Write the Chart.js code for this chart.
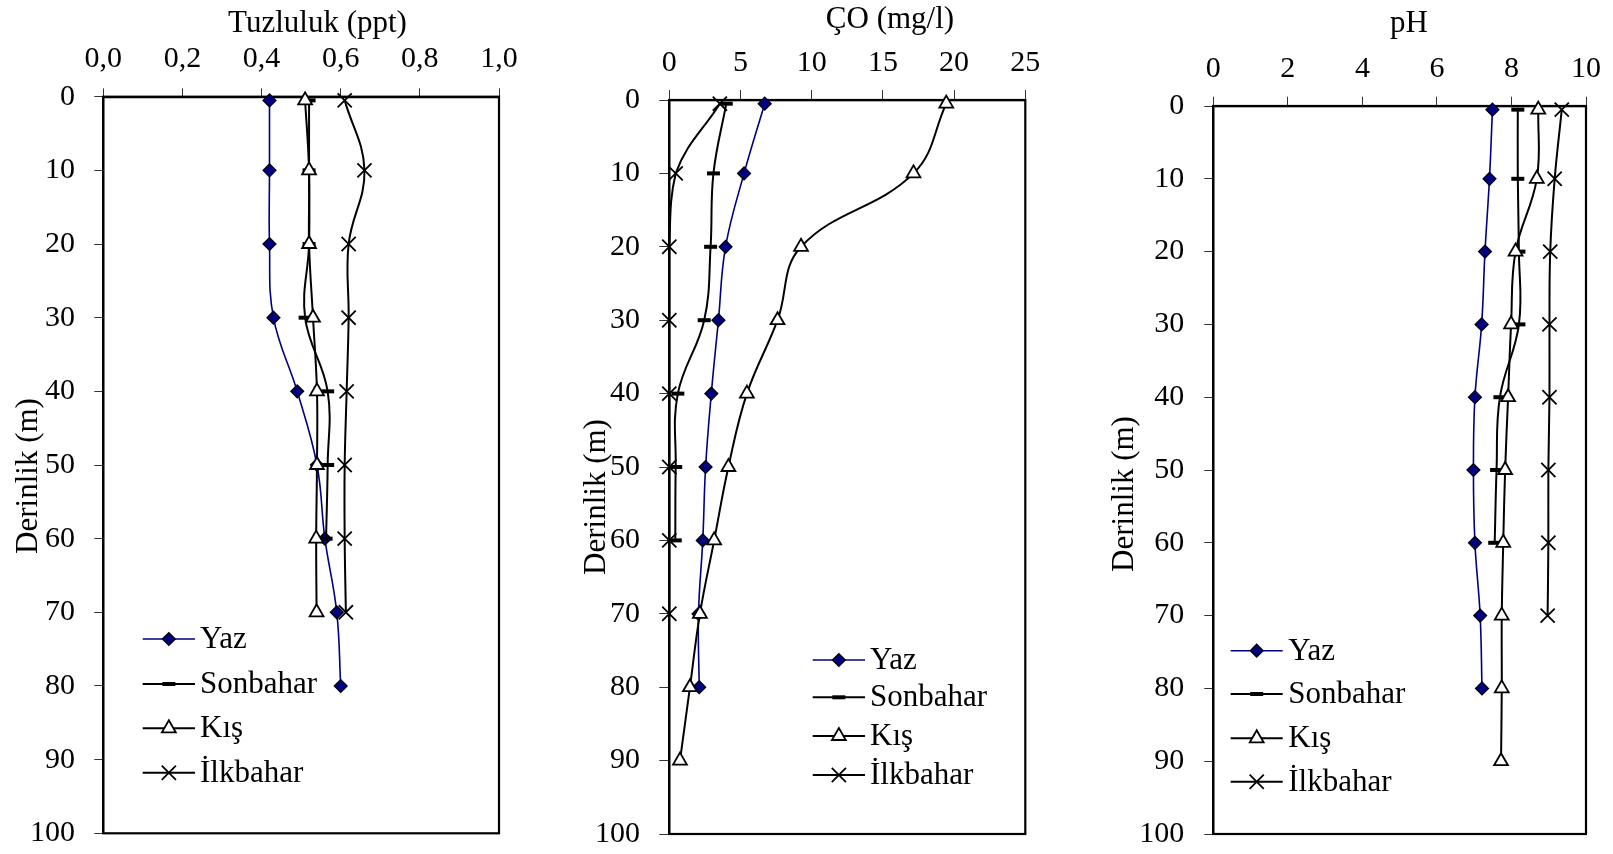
<!DOCTYPE html>
<html><head><meta charset="utf-8">
<script src="https://cdn.jsdelivr.net/npm/chart.js@4.4.1/dist/chart.umd.min.js"></script>
<style>
html,body{margin:0;padding:0;background:#fff;}
#wrap{position:relative;width:1613px;height:854px;overflow:hidden;background:#fff;}
canvas{position:absolute;top:0;}
</style></head><body>
<div id="wrap">
<canvas id="c1" width="540" height="854" style="left:0px"></canvas>
<canvas id="c2" width="540" height="854" style="left:540px"></canvas>
<canvas id="c3" width="533" height="854" style="left:1080px"></canvas>
</div>
<script>
// ---------- DATA ----------
const seriesNames = ['Yaz', 'Sonbahar', 'Kış', 'İlkbahar'];
const depths = [0.5, 10, 20, 30, 40, 50, 60, 70, 80, 90];
const depthTicks = [0, 10, 20, 30, 40, 50, 60, 70, 80, 90, 100];
const depthTickLabels = ['0', '10', '20', '30', '40', '50', '60', '70', '80', '90', '100'];
const depthTitle = 'Derinlik (m)';

const salTitle = 'Tuzluluk (ppt)';
const salTicks = [0, 0.2, 0.4, 0.6, 0.8, 1.0];
const salTickLabels = ['0,0', '0,2', '0,4', '0,6', '0,8', '1,0'];
const salYaz = [0.42, 0.42, 0.42, 0.43, 0.49, 0.54, 0.56, 0.59, 0.60];
const salSonbahar = [0.52, 0.52, 0.52, 0.51, 0.567, 0.567, 0.563];
const salKis = [0.51, 0.52, 0.52, 0.53, 0.54, 0.54, 0.538, 0.539];
const salIlkbahar = [0.61, 0.66, 0.62, 0.62, 0.615, 0.61, 0.61, 0.613];

const doTitle = 'ÇO (mg/l)';
const doTicks = [0, 5, 10, 15, 20, 25];
const doTickLabels = ['0', '5', '10', '15', '20', '25'];
const doYaz = [6.7, 5.25, 3.95, 3.45, 2.95, 2.55, 2.35, 2.05, 2.1];
const doSonbahar = [4.0, 3.1, 2.9, 2.45, 0.6, 0.45, 0.42];
const doKis = [19.45, 17.15, 9.25, 7.6, 5.45, 4.15, 3.15, 2.15, 1.45, 0.75];
const doIlkbahar = [3.55, 0.45, 0, 0, 0, 0, 0, 0];

const phTitle = 'pH';
const phTicks = [0, 2, 4, 6, 8, 10];
const phTickLabels = ['0', '2', '4', '6', '8', '10'];
const phYaz = [7.49, 7.41, 7.29, 7.2, 7.02, 6.98, 7.02, 7.16, 7.21];
const phSonbahar = [8.17, 8.17, 8.2, 8.2, 7.69, 7.6, 7.55];
const phKis = [8.72, 8.68, 8.11, 7.99, 7.91, 7.83, 7.78, 7.74, 7.74, 7.72];
const phIlkbahar = [9.35, 9.16, 9.04, 9.02, 9.02, 8.99, 8.99, 8.97];

// ---------- STYLES ----------
const FONT = "'Liberation Serif', 'Times New Roman', serif";
const styles = [
  {line: '#000080', lw: 1.6, ps: 'rectRot', r: 6.5, fill: '#000080', pb: '#000000', pbw: 1.2},
  {line: '#000000', lw: 2, ps: 'line', r: 6.5, fill: '#000000', pb: '#000000', pbw: 4},
  {line: '#000000', lw: 2, ps: 'triangle', r: 8, fill: '#ffffff', pb: '#000000', pbw: 1.8},
  {line: '#000000', lw: 2, ps: 'crossRot', r: 10, fill: '#000000', pb: '#000000', pbw: 1.8}
];

const panels = [
  {id: 'c1', series: [salYaz, salSonbahar, salKis, salIlkbahar], xTicks: salTicks, xLabels: salTickLabels, xTitle: salTitle,
   geo: {plotLeft: 103.3, plotTop: 96.7, padRight: 41, padBottom: 20.7, xtl: 8.4, xtp: 11.3, ytl: 9, ytp: 19.3,
         xt: [317.5, 31.7], yt: [36.7, 476], legX: [142.7, 195, 200], legY: [639, 684, 728.3, 772.7]}},
  {id: 'c2', series: [doYaz, doSonbahar, doKis, doIlkbahar], xTicks: doTicks, xLabels: doTickLabels, xTitle: doTitle,
   geo: {plotLeft: 129.3, plotTop: 100, padRight: 54.7, padBottom: 20, xtl: 10, xtp: 8.7, ytl: 10, ytp: 19.3,
         xt: [350, 28.3], yt: [65, 497], legX: [272.7, 325, 330], legY: [660, 697.3, 736, 775]}},
  {id: 'c3', series: [phYaz, phSonbahar, phKis, phIlkbahar], xTicks: phTicks, xLabels: phTickLabels, xTitle: phTitle,
   geo: {plotLeft: 133.3, plotTop: 106, padRight: 27, padBottom: 20, xtl: 9.3, xtp: 9.4, ytl: 9, ytp: 20,
         xt: [329, 32.3], yt: [53.3, 494], legX: [150.7, 202.7, 208.3], legY: [650.7, 694, 738.3, 781.7]}}
];

function drawMarker(ctx, st, x, y) {
  ctx.save();
  ctx.fillStyle = st.fill;
  ctx.strokeStyle = st.pb;
  ctx.lineWidth = st.pbw;
  if (Chart.helpers && Chart.helpers.drawPoint) {
    Chart.helpers.drawPoint(ctx, {pointStyle: st.ps, radius: st.r, rotation: 0, borderWidth: st.pbw}, x, y);
  }
  ctx.restore();
}

function makeChart(p) {
  const g = p.geo;
  const datasets = p.series.map((vals, i) => {
    const st = styles[i];
    return {
      label: seriesNames[i],
      data: vals.map((v, k) => ({x: v, y: depths[k]})),
      borderColor: st.line,
      borderWidth: st.lw,
      tension: 0.4,
      fill: false,
      pointStyle: st.ps,
      pointRadius: st.r,
      pointBackgroundColor: st.fill,
      pointBorderColor: st.pb,
      pointBorderWidth: st.pbw,
      clip: false,
      order: 4 - i
    };
  });

  const framePlugin = {
    id: 'frame',
    beforeDatasetsDraw(chart) {
      const a = chart.chartArea, ctx = chart.ctx;
      ctx.save();
      ctx.strokeStyle = '#000';
      ctx.lineWidth = 2.2;
      ctx.strokeRect(a.left, a.top, a.right - a.left, a.bottom - a.top);
      ctx.restore();
    },
    afterDraw(chart) {
      const ctx = chart.ctx;
      ctx.save();
      ctx.fillStyle = '#000';
      ctx.font = '31px ' + FONT;
      ctx.textAlign = 'center';
      ctx.textBaseline = 'alphabetic';
      ctx.fillText(p.xTitle, g.xt[0], g.xt[1]);
      ctx.save();
      ctx.translate(g.yt[0], g.yt[1]);
      ctx.rotate(-Math.PI / 2);
      ctx.fillText(depthTitle, 0, 0);
      ctx.restore();
      // legend
      ctx.font = '31px ' + FONT;
      ctx.textAlign = 'left';
      ctx.textBaseline = 'middle';
      chart.data.datasets.forEach((ds, i) => {
        const st = styles[i];
        const y = g.legY[i];
        ctx.strokeStyle = st.line;
        ctx.lineWidth = st.lw;
        ctx.beginPath();
        ctx.moveTo(g.legX[0], y);
        ctx.lineTo(g.legX[1], y);
        ctx.stroke();
        drawMarker(ctx, st, (g.legX[0] + g.legX[1]) / 2, y);
        ctx.fillStyle = '#000';
        ctx.fillText(ds.label, g.legX[2], y + 1);
      });
      ctx.restore();
    }
  };

  return new Chart(document.getElementById(p.id), {
    type: 'line',
    data: {datasets},
    options: {
      responsive: false,
      devicePixelRatio: 1,
      animation: false,
      events: [],
      indexAxis: 'y',
      layout: {padding: {left: 0, top: 0, right: g.padRight, bottom: g.padBottom}},
      plugins: {legend: {display: false}, tooltip: {enabled: false}, title: {display: false}},
      scales: {
        x: {
          type: 'linear', position: 'top',
          min: p.xTicks[0], max: p.xTicks[p.xTicks.length - 1],
          afterBuildTicks: (s) => { s.ticks = p.xTicks.map(v => ({value: v})); },
          afterFit: (s) => { s.height = g.plotTop; s.paddingLeft = 0; s.paddingRight = 0; },
          ticks: {
            autoSkip: false, maxRotation: 0, padding: g.xtp, color: '#000',
            font: {family: FONT, size: 30},
            callback: (v, idx) => p.xLabels[idx]
          },
          grid: {drawOnChartArea: false, drawTicks: true, tickLength: g.xtl, color: '#333', lineWidth: 1},
          border: {display: true, color: '#000', width: 2.2}
        },
        y: {
          type: 'linear', position: 'left', reverse: true,
          min: 0, max: 100,
          afterBuildTicks: (s) => { s.ticks = depthTicks.map(v => ({value: v})); },
          afterFit: (s) => { s.width = g.plotLeft; s.paddingTop = 0; s.paddingBottom = 0; },
          ticks: {
            autoSkip: false, padding: g.ytp, color: '#000',
            font: {family: FONT, size: 30},
            callback: (v, idx) => depthTickLabels[idx]
          },
          grid: {drawOnChartArea: false, drawTicks: true, tickLength: g.ytl, color: '#333', lineWidth: 1},
          border: {display: true, color: '#000', width: 2.2}
        }
      }
    },
    plugins: [framePlugin]
  });
}

panels.forEach(makeChart);
</script>
</body></html>
